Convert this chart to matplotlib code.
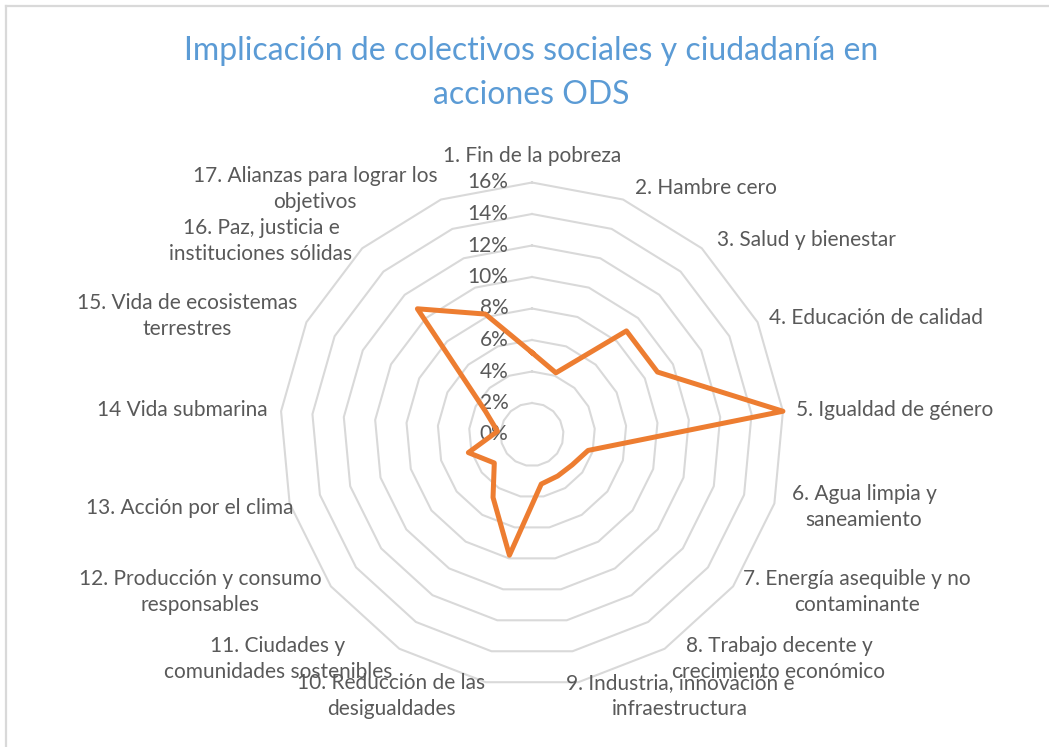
import numpy as np
import matplotlib
matplotlib.use("Agg")
import matplotlib.pyplot as plt
from matplotlib.lines import Line2D

# ---------------- data ----------------
categories = [
    "1. Fin de la pobreza",
    "2. Hambre cero",
    "3. Salud y bienestar",
    "4. Educación de calidad",
    "5. Igualdad de género",
    "6. Agua limpia y\nsaneamiento",
    "7. Energía asequible y no\ncontaminante",
    "8. Trabajo decente y\ncrecimiento económico",
    "9. Industria, innovación e\ninfraestructura",
    "10. Reducción de las\ndesigualdades",
    "11. Ciudades y\ncomunidades sostenibles",
    "12. Producción y consumo\nresponsables",
    "13. Acción por el clima",
    "14 Vida submarina",
    "15. Vida de ecosistemas\nterrestres",
    "16. Paz, justicia e\ninstituciones sólidas",
    "17. Alianzas para lograr los\nobjetivos",
]
values = [5.2, 4.2, 8.9, 8.9, 16.0, 3.7, 3.2, 3.1, 3.2, 7.8, 4.7, 3.0, 4.2, 2.2, 3.3, 10.8, 8.2]
ticks = [0, 2, 4, 6, 8, 10, 12, 14, 16]
tick_labels = ["0%", "2%", "4%", "6%", "8%", "10%", "12%", "14%", "16%"]
title = "Implicación de colectivos sociales y ciudadanía en\nacciones ODS"

# label centres in pixels (layout)
label_pos = [
    (532, 156), (706, 188), (806, 240), (876, 318), (895, 410),
    (864, 507), (857, 592), (779, 659), (680, 696), (391, 696),
    (278, 659), (200, 592), (190, 508), (182, 410), (187, 316),
    (261, 241), (315, 189),
]

W, H = 1049, 747
fig = plt.figure(figsize=(W / 100, H / 100), dpi=100)
fig.patch.set_facecolor("white")

GRID = "#d9d9d9"
TXT = "#595959"
LINE = "#ed7d31"
FONT = "Lato"

# chart border (only top and left visible)
fig.add_artist(Line2D([6 / W, 6 / W], [0, 1 - 6 / H], transform=fig.transFigure, color=GRID, lw=1.6))
fig.add_artist(Line2D([6 / W, 1], [1 - 6 / H, 1 - 6 / H], transform=fig.transFigure, color=GRID, lw=1.6))

# axes so that centre is at (532, 434.5) px and 16% -> 252 px
cx, cy, R16 = 532, 434.5, 252
half = 300
ax = fig.add_axes([(cx - half) / W, (H - cy - half) / H, 2 * half / W, 2 * half / H])
lim = 16 * half / R16
ax.set_xlim(-lim, lim)
ax.set_ylim(-lim, lim)
ax.axis("off")

n = len(categories)
ang = np.arange(n) * 2 * np.pi / n
ang_c = np.append(ang, ang[0])

# polygon grid rings
for t in ticks[1:]:
    ax.plot(t * np.sin(ang_c), t * np.cos(ang_c), color=GRID, lw=1.5, zorder=1)

# radial tick labels
for t, lab in zip(ticks, tick_labels):
    ax.text(-1.5, t, lab, ha="right", va="center", color=TXT, fontsize=15, family=FONT, zorder=2)

# data line
v = np.append(values, values[0])
ax.plot(v * np.sin(ang_c), v * np.cos(ang_c), color=LINE, lw=3.6, solid_joinstyle="round", zorder=3)

# category labels
for lab, (px, py) in zip(categories, label_pos):
    fig.text(px / W, 1 - py / H, lab, ha="center", va="center", multialignment="center",
             color=TXT, fontsize=15, family=FONT, linespacing=1.42)

fig.text(531 / W, 1 - 73 / H, title, ha="center", va="center", multialignment="center",
         color="#5b9bd5", fontsize=23, family=FONT, linespacing=1.6)

fig.savefig("out.png", dpi=100, facecolor="white")
